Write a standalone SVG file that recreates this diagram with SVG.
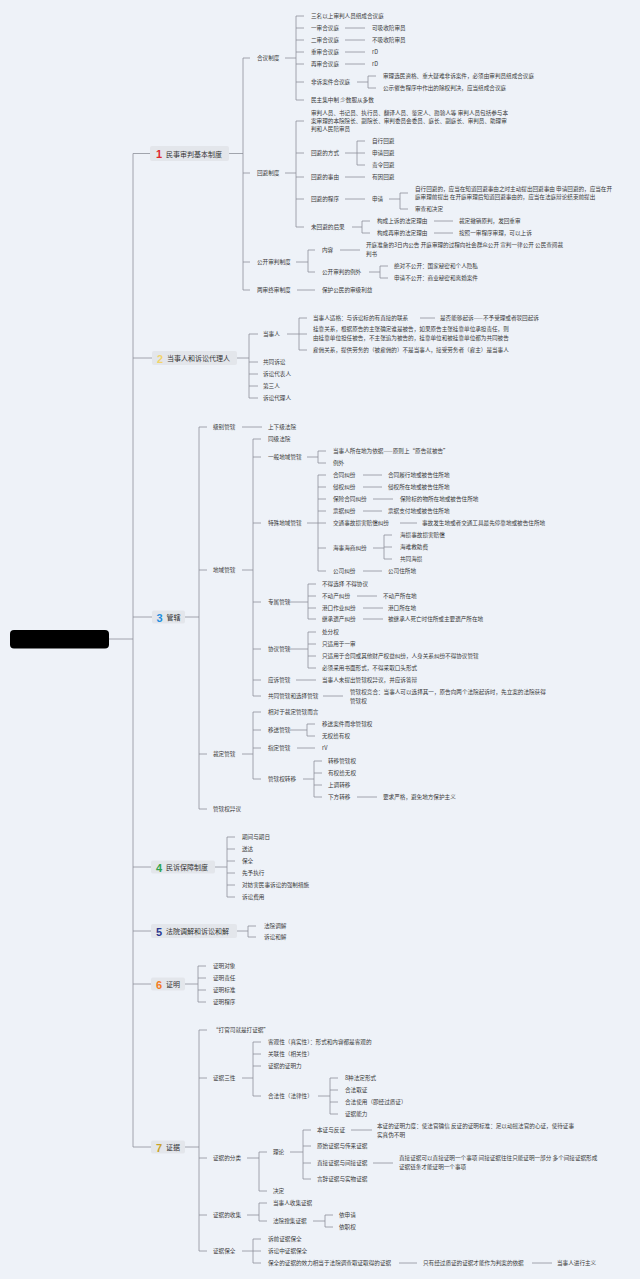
<svg xmlns="http://www.w3.org/2000/svg" width="640" height="1279" viewBox="0 0 640 1279">
<style>
text{font-family:"Noto Sans CJK SC","Noto Sans",sans-serif;dominant-baseline:central}
.t{font-size:5.6px;fill:#3a3a3a}
.mt{font-size:7px;fill:#333}
.n{font-size:11px;font-weight:bold;font-family:"Liberation Sans",sans-serif}
.box{fill:#e3e6eb}
.c{fill:none;stroke:#8d9199;stroke-width:0.8}
</style>
<rect width="640" height="1279" fill="#eef2f8"/>
<g id="connectors" class="c">
<path d="M109,639H133M133,153.5V1147M133,153.5H150M133,358H152M133,617H152M133,867H151M133,931H151M133,984H151M133,1147H151"/>
<!-- section 1 -->
<path d="M229,153.5H243M243,58V290M243,58H250M243,173H250M243,262H250M243,290H250"/>
<path d="M285,58H296M296,16V100M296,16H304M296,28H304M296,40H304M296,52H304M296,64H304M296,82H304M296,100H304"/>
<path d="M345,28H365M345,40H365M345,52H365M345,64H365M357,82H368M368,76V88M368,76H376M368,88H376"/>
<path d="M285,173H296M296,121V227M296,121H304M296,153H304M296,177H304M296,199H304M296,227H304"/>
<path d="M345,153H357M357,141V165M357,141H365M357,153H365M357,165H365M345,177H365M345,199H365M389,199H400M400,193V209M400,193H408M400,209H408"/>
<path d="M352,227H362M362,221V233M362,221H370M362,233H370M434,221H453M434,233H453"/>
<path d="M296,262H308M308,250V272M308,250H315M308,272H315M340,250H360M369,272H380M380,266V278M380,266H388M380,278H388M297,290H315"/>
<!-- section 2 -->
<path d="M237,358H249M249,334V398M249,334H258M249,362H258M249,374H258M249,386H258M249,398H258"/>
<path d="M287,334H299M299,318V350M299,318H307M299,334H307M299,350H307M420,318H435"/>
<!-- section 3 -->
<path d="M185,617H199M199,427V809M199,427H207M199,570H207M199,754H207M199,809H207M242,427H262"/>
<path d="M242,570H253M253,439V696M253,439H261M253,457H261M253,523H261M253,602H261M253,649H261M253,680H261M253,696H261"/>
<path d="M307,457H318M318,451V463M318,451H326M318,463H326"/>
<path d="M307,523H318M318,475V571M318,475H326M318,487H326M318,499H326M318,511H326M318,523H326M318,548H326M318,571H326"/>
<path d="M363,475H382M363,487H382M373,499H393M363,511H382M400,523H417M373,548H384M384,535V559M384,535H392M384,547H392M384,559H392M363,571H382"/>
<path d="M287,602H308M308,584V619M308,584H316M308,596H316M308,608H316M308,619H316M357,596H377M363,608H383M363,619H383"/>
<path d="M287,649H308M308,632V668M308,632H316M308,644H316M308,656H316M308,668H316M296,680H316M323,696H343"/>
<path d="M242,754H253M253,712V779M253,712H261M253,730H261M253,748H261M253,779H261"/>
<path d="M290,730H307M307,724V736M307,724H315M307,736H315M297,748H315M303,779H314M314,761V797M314,761H322M314,773H322M314,785H322M314,797H322M357,797H377"/>
<!-- section 4,5,6 -->
<path d="M215,867H227M227,837V897M227,837H235M227,849H235M227,861H235M227,873H235M227,885H235M227,897H235"/>
<path d="M237,931H248M248,926V937M248,926H256M248,937H256"/>
<path d="M185,984H198M198,966V1002M198,966H206M198,978H206M198,990H206M198,1002H206"/>
<!-- section 7 -->
<path d="M185,1147H199M199,1030V1251M199,1030H207M199,1078H207M199,1158H207M199,1215H207M199,1251H207"/>
<path d="M242,1078H253M253,1042V1096M253,1042H261M253,1054H261M253,1066H261M253,1096H261M318,1096H330M330,1078V1114M330,1078H338M330,1090H338M330,1102H338M330,1114H338"/>
<path d="M247,1158H259M259,1152V1191M259,1152H267M259,1191H267M290,1152H303M303,1130V1179M303,1130H311M303,1146H311M303,1163H311M303,1179H311M351,1130H372M373,1163H393"/>
<path d="M247,1215H259M259,1203V1221M259,1203H267M259,1221H267M313,1221H325M325,1215V1227M325,1215H333M325,1227H333"/>
<path d="M242,1251H253M253,1239V1263M253,1239H261M253,1251H261M253,1263H261M399,1263H417M532,1263H552"/>
</g>
<g id="root"><rect x="10" y="630" width="99" height="18.5" rx="4" fill="#000"/></g>
<g id="topic1"><rect class="box" x="150" y="146" width="79" height="15" rx="2"/><text class="n" x="156" y="154" fill="#e0262b">1</text><text class="mt" x="166" y="153.5">民事审判基本制度</text></g>
<g id="topic2"><rect class="box" x="152" y="351" width="85" height="14" rx="2"/><text class="n" x="157" y="358.5" fill="#f2d46a">2</text><text class="mt" x="167" y="358">当事人和诉讼代理人</text></g>
<g id="topic3"><rect class="box" x="152" y="610.5" width="33" height="13" rx="2"/><text class="n" x="156.5" y="617.5" fill="#1f8fe0">3</text><text class="mt" x="166.5" y="617">管辖</text></g>
<g id="topic4"><rect class="box" x="151" y="860.5" width="64" height="13" rx="2"/><text class="n" x="156" y="867.5" fill="#2ea44f">4</text><text class="mt" x="166" y="867">民诉保障制度</text></g>
<g id="topic5"><rect class="box" x="151" y="924" width="86" height="14" rx="2"/><text class="n" x="156" y="931.5" fill="#2b3990">5</text><text class="mt" x="166" y="931">法院调解和诉讼和解</text></g>
<g id="topic6"><rect class="box" x="151" y="977.5" width="34" height="13" rx="2"/><text class="n" x="156" y="984.5" fill="#f47a20">6</text><text class="mt" x="166" y="984">证明</text></g>
<g id="topic7"><rect class="box" x="151" y="1140.5" width="34" height="13" rx="2"/><text class="n" x="156" y="1147.5" fill="#c9a227">7</text><text class="mt" x="166" y="1147">证据</text></g>

<g id="s1" class="t">
<g id="s1a"><text class="t" x="257" y="58">合议制度</text></g>
<g id="s1a1"><text class="t" x="311" y="16">三名以上审判人员组成合议庭</text></g>
<g id="s1a2"><text class="t" x="311" y="28">一审合议庭</text></g>
<g id="s1a2a"><text class="t" x="372" y="28">可吸收陪审员</text></g>
<g id="s1a3"><text class="t" x="311" y="40">二审合议庭</text></g>
<g id="s1a3a"><text class="t" x="372" y="40">不吸收陪审员</text></g>
<g id="s1a4"><text class="t" x="311" y="52">重审合议庭</text></g>
<g id="s1a4a"><text class="t" x="372" y="52">rD</text></g>
<g id="s1a5"><text class="t" x="311" y="64">再审合议庭</text></g>
<g id="s1a5a"><text class="t" x="372" y="64">rD</text></g>
<g id="s1a6"><text class="t" x="311" y="82">非诉案件合议庭</text></g>
<g id="s1a6a"><text class="t" x="383" y="76">审理选民资格、重大疑难非诉案件，必须由审判员组成合议庭</text></g>
<g id="s1a6b"><text class="t" x="383" y="88">公示催告程序中作出的除权判决，应当组成合议庭</text></g>
<g id="s1a7"><text class="t" x="311" y="100">民主集中制 少数服从多数</text></g>
<g id="s1b"><text class="t" x="257" y="173">回避制度</text></g>
<g id="s1b1"><text class="t" x="311" y="113">审判人员、书记员、执行员、翻译人员、鉴定人、勘验人等 审判人员包括参与本</text><text class="t" x="311" y="121">案审理的本院院长、副院长、审判委员会委员、庭长、副庭长、审判员、助理审</text><text class="t" x="311" y="129">判和人民陪审员</text></g>
<g id="s1b2"><text class="t" x="311" y="153">回避的方式</text></g>
<g id="s1b2a"><text class="t" x="372" y="141">自行回避</text></g>
<g id="s1b2b"><text class="t" x="372" y="153">申请回避</text></g>
<g id="s1b2c"><text class="t" x="372" y="165">责令回避</text></g>
<g id="s1b3"><text class="t" x="311" y="177">回避的事由</text></g>
<g id="s1b3a"><text class="t" x="372" y="177">有因回避</text></g>
<g id="s1b4"><text class="t" x="311" y="199">回避的程序</text></g>
<g id="s1b4a"><text class="t" x="372" y="199">申请</text></g>
<g id="s1b4a1"><text class="t" x="415" y="189">自行回避的，应当在知道回避事由之时主动提出回避事由 申请回避的，应当在开</text><text class="t" x="415" y="197">庭审理前提出 在开庭审理后知道回避事由的，应当在法庭辩论结束前提出</text></g>
<g id="s1b4a2"><text class="t" x="415" y="209">审查和决定</text></g>
<g id="s1b5"><text class="t" x="311" y="227">未回避的后果</text></g>
<g id="s1b5a"><text class="t" x="377" y="221">构成上诉的法定理由</text></g>
<g id="s1b5a1"><text class="t" x="459" y="221">裁定撤销原判，发回重审</text></g>
<g id="s1b5b"><text class="t" x="377" y="233">构成再审的法定理由</text></g>
<g id="s1b5b1"><text class="t" x="459" y="233">按照一审程序审理，可以上诉</text></g>
<g id="s1c"><text class="t" x="257" y="262">公开审判制度</text></g>
<g id="s1c1"><text class="t" x="322" y="250">内容</text></g>
<g id="s1c1a"><text class="t" x="366" y="245">开庭准备的3日内公告 开庭审理的过程向社会群众公开 宣判一律公开 公民查阅裁</text><text class="t" x="366" y="254">判书</text></g>
<g id="s1c2"><text class="t" x="322" y="272">公开审判的例外</text></g>
<g id="s1c2a"><text class="t" x="394" y="266">绝对不公开：国家秘密和个人隐私</text></g>
<g id="s1c2b"><text class="t" x="394" y="278">申请不公开：商业秘密和离婚案件</text></g>
<g id="s1d"><text class="t" x="257" y="290">两审终审制度</text></g>
<g id="s1d1"><text class="t" x="322" y="290">保护公民的审级利益</text></g>
</g>

<g id="s2">
<g id="s2a"><text class="t" x="263" y="334">当事人</text></g>
<g id="s2a1"><text class="t" x="313" y="318">当事人适格：与诉讼标的有直接的联系</text></g>
<g id="s2a1a"><text class="t" x="440" y="318">是否能够起诉——不予受理或者驳回起诉</text></g>
<g id="s2a2"><text class="t" x="313" y="329">挂靠关系，根据原告的主张确定谁是被告，如果原告主张挂靠单位承担责任，则</text><text class="t" x="313" y="338">由挂靠单位担任被告，不主张追为被告的，挂靠单位和被挂靠单位都为共同被告</text></g>
<g id="s2a3"><text class="t" x="313" y="350">雇佣关系，提供劳务的（被雇佣的）不是当事人，接受劳务者（雇主）是当事人</text></g>
<g id="s2b"><text class="t" x="263" y="362">共同诉讼</text></g>
<g id="s2c"><text class="t" x="263" y="374">诉讼代表人</text></g>
<g id="s2d"><text class="t" x="263" y="386">第三人</text></g>
<g id="s2e"><text class="t" x="263" y="398">诉讼代理人</text></g>
</g>

<g id="s3">
<g id="s3a"><text class="t" x="213" y="427">级别管辖</text></g>
<g id="s3a1"><text class="t" x="268" y="427">上下级法院</text></g>
<g id="s3b"><text class="t" x="213" y="570">地域管辖</text></g>
<g id="s3b1"><text class="t" x="268" y="439">同级法院</text></g>
<g id="s3b2"><text class="t" x="268" y="457">一般地域管辖</text></g>
<g id="s3b2a"><text class="t" x="333" y="451">当事人所在地为依据——原则上“原告就被告”</text></g>
<g id="s3b2b"><text class="t" x="333" y="463">例外</text></g>
<g id="s3b3"><text class="t" x="268" y="523">特殊地域管辖</text></g>
<g id="s3b3a"><text class="t" x="333" y="475">合同纠纷</text></g>
<g id="s3b3a1"><text class="t" x="388" y="475">合同履行地或被告住所地</text></g>
<g id="s3b3b"><text class="t" x="333" y="487">侵权纠纷</text></g>
<g id="s3b3b1"><text class="t" x="388" y="487">侵权所在地或被告住所地</text></g>
<g id="s3b3c"><text class="t" x="333" y="499">保险合同纠纷</text></g>
<g id="s3b3c1"><text class="t" x="400" y="499">保险标的物所在地或被告住所地</text></g>
<g id="s3b3d"><text class="t" x="333" y="511">票据纠纷</text></g>
<g id="s3b3d1"><text class="t" x="388" y="511">票据支付地或被告住所地</text></g>
<g id="s3b3e"><text class="t" x="333" y="523">交通事故损害赔偿纠纷</text></g>
<g id="s3b3e1"><text class="t" x="422" y="523">事故发生地或者交通工具最先停靠地或被告住所地</text></g>
<g id="s3b3f"><text class="t" x="333" y="548">海事海商纠纷</text></g>
<g id="s3b3f1"><text class="t" x="400" y="535">海损事故损害赔偿</text></g>
<g id="s3b3f2"><text class="t" x="400" y="547">海难救助费</text></g>
<g id="s3b3f3"><text class="t" x="400" y="559">共同海损</text></g>
<g id="s3b3g"><text class="t" x="333" y="571">公司纠纷</text></g>
<g id="s3b3g1"><text class="t" x="388" y="571">公司住所地</text></g>
<g id="s3b4"><text class="t" x="268" y="602">专属管辖</text></g>
<g id="s3b4a"><text class="t" x="322" y="584">不得选择 不得协议</text></g>
<g id="s3b4b"><text class="t" x="322" y="596">不动产纠纷</text></g>
<g id="s3b4b1"><text class="t" x="383" y="596">不动产所在地</text></g>
<g id="s3b4c"><text class="t" x="322" y="608">港口作业纠纷</text></g>
<g id="s3b4c1"><text class="t" x="388" y="608">港口所在地</text></g>
<g id="s3b4d"><text class="t" x="322" y="619">继承遗产纠纷</text></g>
<g id="s3b4d1"><text class="t" x="388" y="619">被继承人死亡时住所或主要遗产所在地</text></g>
<g id="s3b5"><text class="t" x="268" y="649">协议管辖</text></g>
<g id="s3b5a"><text class="t" x="322" y="632">处分权</text></g>
<g id="s3b5b"><text class="t" x="322" y="644">只适用于一审</text></g>
<g id="s3b5c"><text class="t" x="322" y="656">只适用于合同或其他财产权益纠纷，人身关系纠纷不得协议管辖</text></g>
<g id="s3b5d"><text class="t" x="322" y="668">必须采用书面形式，不得采取口头形式</text></g>
<g id="s3b6"><text class="t" x="268" y="680">应诉管辖</text></g>
<g id="s3b6a"><text class="t" x="322" y="680">当事人未提出管辖权异议，并应诉答辩</text></g>
<g id="s3b7"><text class="t" x="268" y="696">共同管辖和选择管辖</text></g>
<g id="s3b7a"><text class="t" x="350" y="692">管辖权竞合：当事人可以选择其一，原告向两个法院起诉时，先立案的法院获得</text><text class="t" x="350" y="701">管辖权</text></g>
<g id="s3c"><text class="t" x="213" y="754">裁定管辖</text></g>
<g id="s3c1"><text class="t" x="268" y="712">相对于裁定管辖而言</text></g>
<g id="s3c2"><text class="t" x="268" y="730">移送管辖</text></g>
<g id="s3c2a"><text class="t" x="322" y="724">移送案件而非管辖权</text></g>
<g id="s3c2b"><text class="t" x="322" y="736">无权给有权</text></g>
<g id="s3c3"><text class="t" x="268" y="748">指定管辖</text></g>
<g id="s3c3a"><text class="t" x="322" y="748">rV</text></g>
<g id="s3c4"><text class="t" x="268" y="779">管辖权转移</text></g>
<g id="s3c4a"><text class="t" x="328" y="761">转移管辖权</text></g>
<g id="s3c4b"><text class="t" x="328" y="773">有权给无权</text></g>
<g id="s3c4c"><text class="t" x="328" y="785">上调转移</text></g>
<g id="s3c4d"><text class="t" x="328" y="797">下方转移</text></g>
<g id="s3c4d1"><text class="t" x="383" y="797">要求严格，避免地方保护主义</text></g>
<g id="s3d"><text class="t" x="213" y="809">管辖权异议</text></g>
</g>

<g id="s4">
<g id="s4a"><text class="t" x="242" y="837">期间与期日</text></g>
<g id="s4b"><text class="t" x="242" y="849">送达</text></g>
<g id="s4c"><text class="t" x="242" y="861">保全</text></g>
<g id="s4d"><text class="t" x="242" y="873">先予执行</text></g>
<g id="s4e"><text class="t" x="242" y="885">对妨害民事诉讼的强制措施</text></g>
<g id="s4f"><text class="t" x="242" y="897">诉讼费用</text></g>
</g>
<g id="s5">
<g id="s5a"><text class="t" x="264" y="926">法院调解</text></g>
<g id="s5b"><text class="t" x="264" y="937">诉讼和解</text></g>
</g>
<g id="s6">
<g id="s6a"><text class="t" x="213" y="966">证明对象</text></g>
<g id="s6b"><text class="t" x="213" y="978">证明责任</text></g>
<g id="s6c"><text class="t" x="213" y="990">证明标准</text></g>
<g id="s6d"><text class="t" x="213" y="1002">证明程序</text></g>
</g>

<g id="s7">
<g id="s7a"><text class="t" x="213" y="1030">“打官司就是打证据”</text></g>
<g id="s7b"><text class="t" x="213" y="1078">证据三性</text></g>
<g id="s7b1"><text class="t" x="268" y="1042">客观性（真实性）：形式和内容都是客观的</text></g>
<g id="s7b2"><text class="t" x="268" y="1054">关联性（相关性）</text></g>
<g id="s7b3"><text class="t" x="268" y="1066">证据的证明力</text></g>
<g id="s7b4"><text class="t" x="268" y="1096">合法性（法律性）</text></g>
<g id="s7b4a"><text class="t" x="345" y="1078">8种法定形式</text></g>
<g id="s7b4b"><text class="t" x="345" y="1090">合法取证</text></g>
<g id="s7b4c"><text class="t" x="345" y="1102">合法使用（即经过质证）</text></g>
<g id="s7b4d"><text class="t" x="345" y="1114">证据能力</text></g>
<g id="s7c"><text class="t" x="213" y="1158">证据的分类</text></g>
<g id="s7c1"><text class="t" x="273" y="1152">理论</text></g>
<g id="s7c1a"><text class="t" x="317" y="1130">本证与反证</text></g>
<g id="s7c1a1"><text class="t" x="377" y="1126">本证的证明力度：使法官确信 反证的证明标准：足以动摇法官的心证，使待证事</text><text class="t" x="377" y="1135">实真伪不明</text></g>
<g id="s7c1b"><text class="t" x="317" y="1146">原始证据与传来证据</text></g>
<g id="s7c1c"><text class="t" x="317" y="1163">直接证据与间接证据</text></g>
<g id="s7c1c1"><text class="t" x="399" y="1158">直接证据可以直接证明一个事项 间接证据往往只能证明一部分 多个间接证据形成</text><text class="t" x="399" y="1167">证据链条才能证明一个事项</text></g>
<g id="s7c1d"><text class="t" x="317" y="1179">言辞证据与实物证据</text></g>
<g id="s7c2"><text class="t" x="273" y="1191">决定</text></g>
<g id="s7d"><text class="t" x="213" y="1215">证据的收集</text></g>
<g id="s7d1"><text class="t" x="273" y="1203">当事人收集证据</text></g>
<g id="s7d2"><text class="t" x="273" y="1221">法院搜集证据</text></g>
<g id="s7d2a"><text class="t" x="339" y="1215">依申请</text></g>
<g id="s7d2b"><text class="t" x="339" y="1227">依职权</text></g>
<g id="s7e"><text class="t" x="213" y="1251">证据保全</text></g>
<g id="s7e1"><text class="t" x="268" y="1239">诉前证据保全</text></g>
<g id="s7e2"><text class="t" x="268" y="1251">诉讼中证据保全</text></g>
<g id="s7e3"><text class="t" x="268" y="1263">保全的证据的效力相当于法院调查取证取得的证据</text></g>
<g id="s7e3a"><text class="t" x="423" y="1263">只有经过质证的证据才能作为判案的依据</text></g>
<g id="s7e3b"><text class="t" x="557" y="1263">当事人进行主义</text></g>
</g>
</svg>
